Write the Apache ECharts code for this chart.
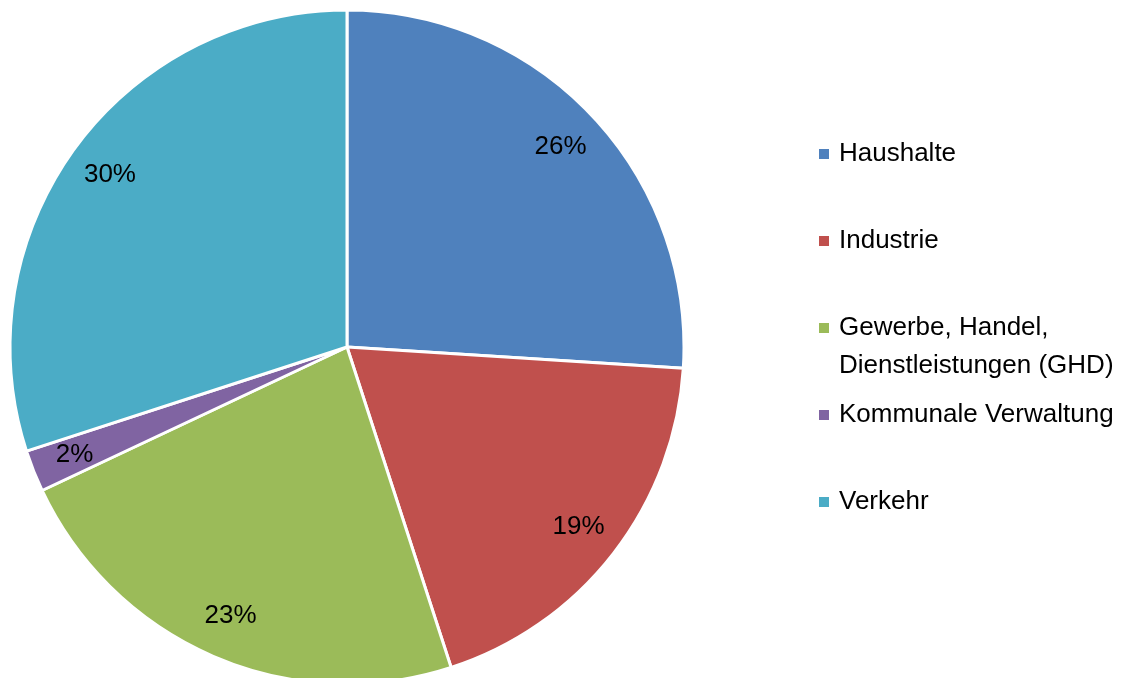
<!DOCTYPE html>
<html>
<head>
<meta charset="utf-8">
<script src="https://cdn.jsdelivr.net/npm/echarts@6/dist/echarts.min.js"></script>
<style>
  html, body { margin: 0; padding: 0; background: #fff; }
  #chart { width: 1123px; height: 678px; }
</style>
</head>
<body>
<div id="chart"></div>
<script>
const categories = ['Haushalte', 'Industrie', 'Gewerbe, Handel, Dienstleistungen (GHD)', 'Kommunale Verwaltung', 'Verkehr']
const values = [26, 19, 23, 2, 30]
const colors = ['#4F81BD', '#C0504D', '#9BBB59', '#8064A2', '#4BACC6']

const font = '"Liberation Sans", Arial, sans-serif'
const pieData = categories.map((name, i) => ({ name, value: values[i], itemStyle: { color: colors[i] } }))

// every legend entry is three lines tall so the icon sits on the first text line
function legendText(name) {
  if (name.indexOf('Handel, ') >= 0) return ' \n' + name.replace('Handel, ', 'Handel,\n')
  return ' \n' + name + '\n '
}

const chart = echarts.init(document.getElementById('chart'))
chart.setOption({
  animation: false,
  legend: {
    orient: 'vertical',
    left: 817,
    top: 97,
    padding: 0,
    itemGap: -27,
    itemWidth: 12,
    itemHeight: 12,
    icon: 'rect',
    selectedMode: false,
    data: categories,
    formatter: legendText,
    textStyle: {
      fontFamily: font,
      fontSize: 26,
      lineHeight: 38,
      color: '#000',
      padding: [0, 0, 0, 4],
    },
  },
  series: [
    {
      type: 'pie',
      center: [347, 347],
      radius: [0, 337],
      startAngle: 90,
      clockwise: true,
      silent: true,
      label: { show: false },
      labelLine: { show: false },
      itemStyle: { borderColor: '#fff', borderWidth: 3 },
      data: pieData,
    },
    {
      // transparent ring only used to place the percent labels
      type: 'pie',
      center: [347, 347],
      radius: [243, 337],
      startAngle: 90,
      clockwise: true,
      silent: true,
      itemStyle: { color: 'rgba(0,0,0,0)', borderWidth: 0 },
      label: {
        show: true,
        position: 'inside',
        formatter: (p) => p.value + '%',
        fontFamily: font,
        fontSize: 26,
        color: '#000',
      },
      labelLine: { show: false },
      data: categories.map((name, i) => ({ name, value: values[i] })),
    },
  ],
})
</script>
</body>
</html>
